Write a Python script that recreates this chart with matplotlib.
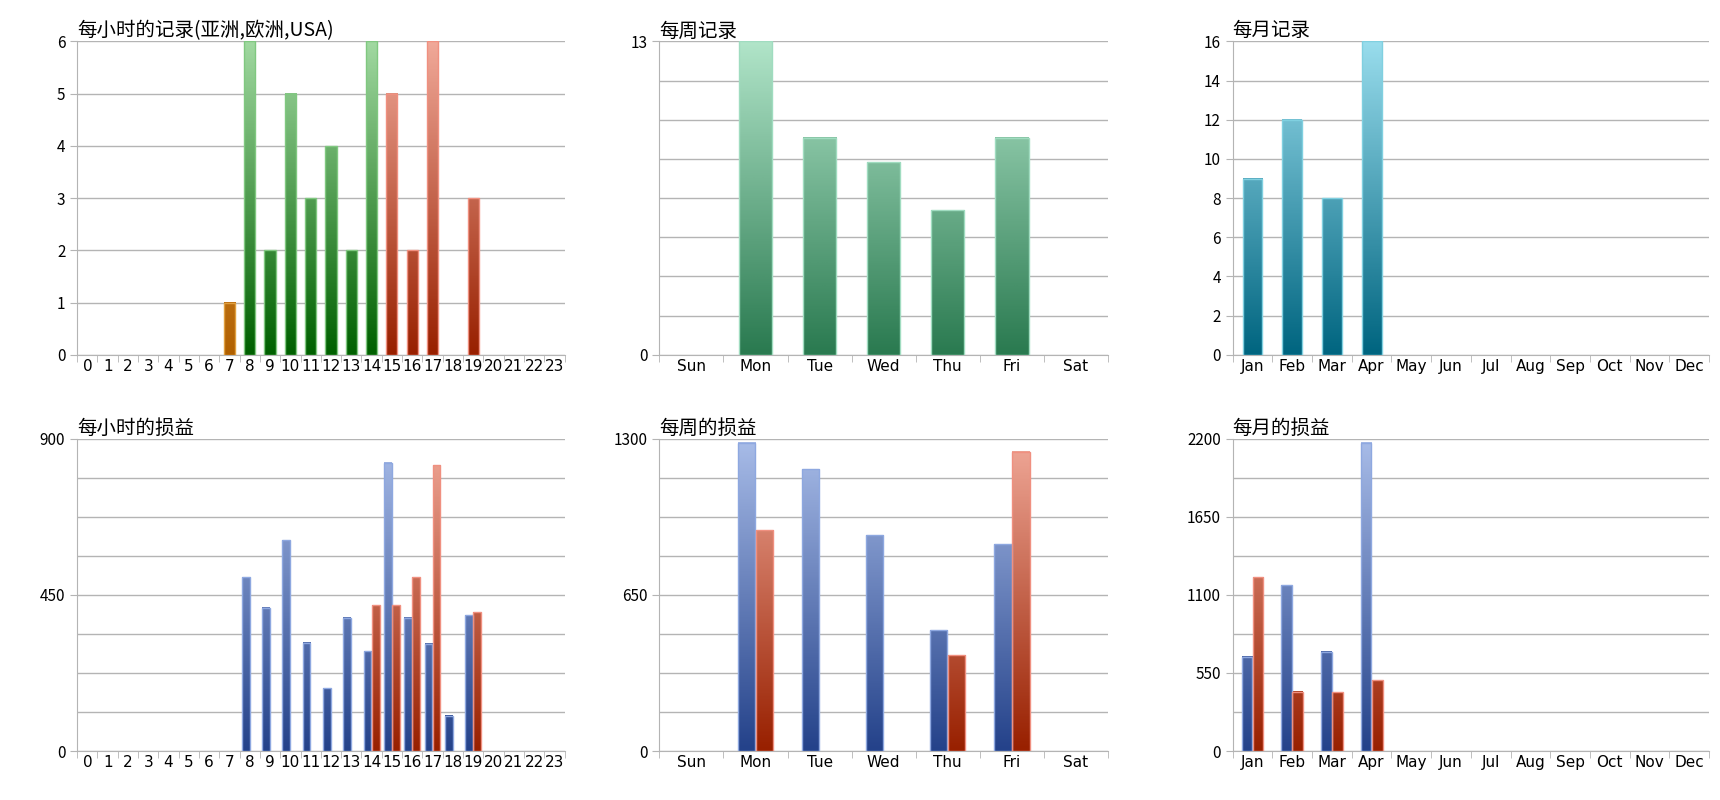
import numpy as np
import matplotlib
matplotlib.use('Agg')
import matplotlib.pyplot as plt
from matplotlib.colors import LinearSegmentedColormap

plt.rcParams['font.family'] = ['Noto Sans CJK SC', 'DejaVu Sans']

# data
hours = [str(h) for h in range(24)]
hour_cnt_asia = {7: 1}
hour_cnt_eu = {8: 6, 9: 2, 10: 5, 11: 3, 12: 4, 13: 2, 14: 6}
hour_cnt_us = {15: 5, 16: 2, 17: 6, 19: 3}
hour_pl_blue = {8: 500, 9: 412, 10: 607, 11: 312, 12: 181, 13: 384, 14: 288,
                15: 831, 16: 384, 17: 309, 18: 101, 19: 391}
hour_pl_red = {14: 420, 15: 420, 16: 500, 17: 823, 19: 400}

days = ['Sun', 'Mon', 'Tue', 'Wed', 'Thu', 'Fri', 'Sat']
day_cnt = [0, 13, 9, 8, 6, 9, 0]
day_pl_blue = [0, 1282, 1173, 897, 503, 861, 0]
day_pl_red = [0, 919, 0, 0, 399, 1246, 0]

months = ['Jan', 'Feb', 'Mar', 'Apr', 'May', 'Jun', 'Jul', 'Aug', 'Sep', 'Oct', 'Nov', 'Dec']
month_cnt = [9, 12, 8, 16, 0, 0, 0, 0, 0, 0, 0, 0]
month_pl_blue = [665, 1167, 698, 2172, 0, 0, 0, 0, 0, 0, 0, 0]
month_pl_red = [1223, 419, 414, 498, 0, 0, 0, 0, 0, 0, 0, 0]


def cmap(lo, hi):
    return LinearSegmentedColormap.from_list('g', [lo, hi])

ORANGE = cmap('#b06000', '#f0b060')
GREEN = cmap('#006000', '#a0d8a0')
RED = cmap('#982000', '#f0a898')
TEAL = cmap('#2a7a50', '#b0e4c8')
CYAN = cmap('#006580', '#98dcec')
BLUE = cmap('#24428a', '#a8bce8')
EDGE = {id(ORANGE): '#e0a040', id(GREEN): '#80c880', id(RED): '#f09080',
        id(TEAL): '#a0dcc0', id(CYAN): '#80d0e0', id(BLUE): '#8ea8e0'}


def gbar(ax, x, h, w, cm, ymax):
    if h <= 0:
        return
    grad = np.linspace(0, h / ymax, 64).reshape(-1, 1)
    ax.imshow(grad, cmap=cm, vmin=0, vmax=1, origin='lower', aspect='auto',
              extent=(x - w / 2, x + w / 2, 0, h), zorder=3, interpolation='bilinear')
    ax.add_patch(plt.Rectangle((x - w / 2, 0), w, h, fill=False,
                               ec=EDGE[id(cm)], lw=1, zorder=4))


def style(ax, labels, ymax, ticks, nminor, title):
    n = len(labels)
    ax.set_xlim(-0.5, n - 0.5)
    ax.set_ylim(0, ymax)
    ax.set_yticks(ticks)
    ax.set_yticks(np.linspace(0, ymax, nminor + 1), minor=True)
    ax.tick_params(axis='y', which='minor', length=0)
    ax.grid(axis='y', which='both', color='#b4b4b4', lw=1, zorder=0)
    ax.set_xticks(range(n))
    ax.set_xticklabels(labels, fontsize=11, family='DejaVu Sans')
    ax.set_xticks(np.arange(n + 1) - 0.5, minor=True)
    ax.tick_params(axis='x', which='major', length=0, pad=3)
    ax.tick_params(axis='x', which='minor', length=5, color='#b4b4b4')
    ax.tick_params(axis='y', which='major', labelsize=11, color='#b4b4b4', length=5)
    for s in ['top', 'right']:
        ax.spines[s].set_visible(False)
    for s in ['left', 'bottom']:
        ax.spines[s].set_color('#b4b4b4')
    ax.set_title(title, loc='left', fontsize=14, pad=2)


fig = plt.figure(figsize=(17.2, 8), dpi=100)
W, H = 1560, 735
def axes(x0, x1, y0, y1):
    return fig.add_axes([x0 / W, 1 - y1 / H, (x1 - x0) / W, (y1 - y0) / H])

ax = axes(70, 512, 38, 326)
style(ax, hours, 6, range(7), 6, '每小时的记录(亚洲,欧洲,USA)')
for d, cm in [(hour_cnt_asia, ORANGE), (hour_cnt_eu, GREEN), (hour_cnt_us, RED)]:
    for k, v in d.items():
        gbar(ax, k, v, 0.55, cm, 6)

ax = axes(598, 1005, 38, 326)
style(ax, days, 13, [0, 13], 8, '每周记录')
for i, v in enumerate(day_cnt):
    gbar(ax, i, v, 0.52, TEAL, 13)

ax = axes(1118, 1550, 38, 326)
style(ax, months, 16, range(0, 17, 2), 8, '每月记录')
for i, v in enumerate(month_cnt):
    gbar(ax, i, v, 0.5, CYAN, 16)

ax = axes(70, 512, 403, 690)
style(ax, hours, 900, [0, 450, 900], 8, '每小时的损益')
for k, v in hour_pl_blue.items():
    gbar(ax, k - 0.2, v, 0.38, BLUE, 900)
for k, v in hour_pl_red.items():
    gbar(ax, k + 0.2, v, 0.38, RED, 900)

ax = axes(598, 1005, 403, 690)
style(ax, days, 1300, [0, 650, 1300], 8, '每周的损益')
for i in range(len(days)):
    gbar(ax, i - 0.14, day_pl_blue[i], 0.27, BLUE, 1300)
    gbar(ax, i + 0.14, day_pl_red[i], 0.27, RED, 1300)

ax = axes(1118, 1550, 403, 690)
style(ax, months, 2200, [0, 550, 1100, 1650, 2200], 8, '每月的损益')
for i in range(len(months)):
    gbar(ax, i - 0.14, month_pl_blue[i], 0.27, BLUE, 2200)
    gbar(ax, i + 0.14, month_pl_red[i], 0.27, RED, 2200)

fig.savefig('out.png', dpi=100)
